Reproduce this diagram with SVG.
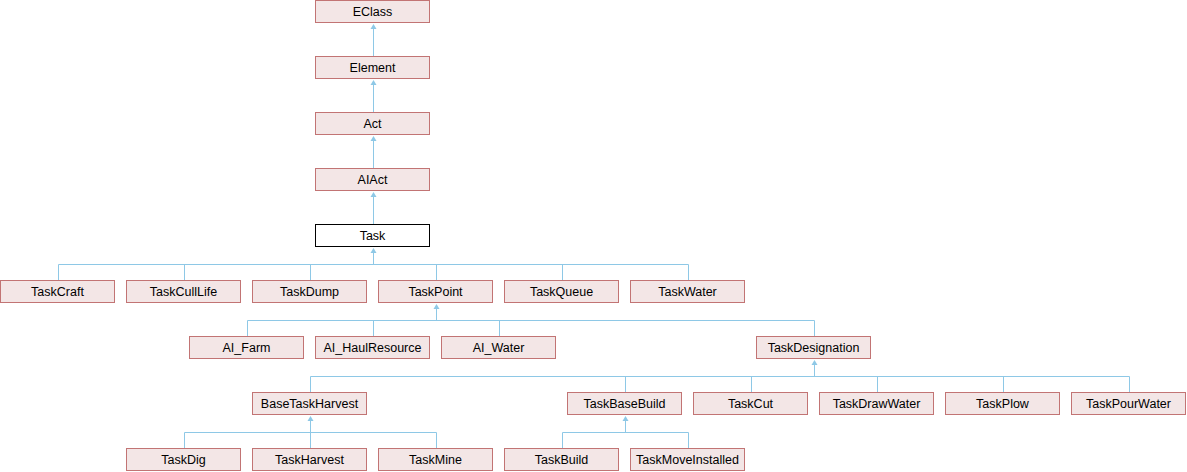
<svg xmlns="http://www.w3.org/2000/svg" width="1187" height="472" viewBox="0 0 1187 472">
<style>
.n rect{fill:#f3e6e6;stroke:#c27474;stroke-width:1}
.n.cur rect{fill:#ffffff;stroke:#000000}
.n text{font-family:"Liberation Sans",Arial,sans-serif;font-size:12.5px;fill:#000;text-anchor:middle}
.e path{fill:none;stroke:#8ec8e6;stroke-width:1}
.e polygon{fill:#8ec8e6;stroke:none}
</style>
<rect width="1187" height="472" fill="#ffffff"/>
<g id="connectors" class="e">
<path d="M373.5 56V25M373.5 112V81M373.5 168V137M373.5 224V193"/>
<polygon points="373.5,24 370.5,29 376.5,29"/>
<polygon points="373.5,80 370.5,85 376.5,85"/>
<polygon points="373.5,136 370.5,141 376.5,141"/>
<polygon points="373.5,192 370.5,197 376.5,197"/>
<path d="M373.5 249V264.5M58.5 264.5H688.5M58.5 264.5V280M184.5 264.5V280M310.5 264.5V280M436.5 264.5V280M562.5 264.5V280M688.5 264.5V280"/>
<polygon points="373.5,248 370.5,253 376.5,253"/>
<path d="M436.5 305V320.5M247.5 320.5H814.5M247.5 320.5V336M373.5 320.5V336M499.5 320.5V336M814.5 320.5V336"/>
<polygon points="436.5,304 433.5,309 439.5,309"/>
<path d="M814.5 361V376.5M310.5 376.5H1129.5M310.5 376.5V392M625.5 376.5V392M751.5 376.5V392M877.5 376.5V392M1003.5 376.5V392M1129.5 376.5V392"/>
<polygon points="814.5,360 811.5,365 817.5,365"/>
<path d="M310.5 417V432.5M184.5 432.5H436.5M184.5 432.5V448M310.5 432.5V448M436.5 432.5V448"/>
<polygon points="310.5,416 307.5,421 313.5,421"/>
<path d="M625.5 417V432.5M562.5 432.5H688.5M562.5 432.5V448M688.5 432.5V448"/>
<polygon points="625.5,416 622.5,421 628.5,421"/>
</g>
<g id="EClass" class="n"><rect x="315.5" y="0.5" width="114" height="22"/><text x="372.5" y="15.5">EClass</text></g>
<g id="Element" class="n"><rect x="315.5" y="56.5" width="114" height="22"/><text x="372.5" y="71.5">Element</text></g>
<g id="Act" class="n"><rect x="315.5" y="112.5" width="114" height="22"/><text x="372.5" y="127.5">Act</text></g>
<g id="AIAct" class="n"><rect x="315.5" y="168.5" width="114" height="22"/><text x="372.5" y="183.5">AIAct</text></g>
<g id="Task" class="n cur"><rect x="315.5" y="224.5" width="114" height="22"/><text x="372.5" y="239.5">Task</text></g>
<g id="TaskCraft" class="n"><rect x="0.5" y="280.5" width="114" height="22"/><text x="57.5" y="295.5">TaskCraft</text></g>
<g id="TaskCullLife" class="n"><rect x="126.5" y="280.5" width="114" height="22"/><text x="183.5" y="295.5">TaskCullLife</text></g>
<g id="TaskDump" class="n"><rect x="252.5" y="280.5" width="114" height="22"/><text x="309.5" y="295.5">TaskDump</text></g>
<g id="TaskPoint" class="n"><rect x="378.5" y="280.5" width="114" height="22"/><text x="435.5" y="295.5">TaskPoint</text></g>
<g id="TaskQueue" class="n"><rect x="504.5" y="280.5" width="114" height="22"/><text x="561.5" y="295.5">TaskQueue</text></g>
<g id="TaskWater" class="n"><rect x="630.5" y="280.5" width="114" height="22"/><text x="687.5" y="295.5">TaskWater</text></g>
<g id="AI_Farm" class="n"><rect x="189.5" y="336.5" width="114" height="22"/><text x="246.5" y="351.5">AI_Farm</text></g>
<g id="AI_HaulResource" class="n"><rect x="315.5" y="336.5" width="114" height="22"/><text x="372.5" y="351.5">AI_HaulResource</text></g>
<g id="AI_Water" class="n"><rect x="441.5" y="336.5" width="114" height="22"/><text x="498.5" y="351.5">AI_Water</text></g>
<g id="TaskDesignation" class="n"><rect x="756.5" y="336.5" width="114" height="22"/><text x="813.5" y="351.5">TaskDesignation</text></g>
<g id="BaseTaskHarvest" class="n"><rect x="252.5" y="392.5" width="114" height="22"/><text x="309.5" y="407.5">BaseTaskHarvest</text></g>
<g id="TaskBaseBuild" class="n"><rect x="567.5" y="392.5" width="114" height="22"/><text x="624.5" y="407.5">TaskBaseBuild</text></g>
<g id="TaskCut" class="n"><rect x="693.5" y="392.5" width="114" height="22"/><text x="750.5" y="407.5">TaskCut</text></g>
<g id="TaskDrawWater" class="n"><rect x="819.5" y="392.5" width="114" height="22"/><text x="876.5" y="407.5">TaskDrawWater</text></g>
<g id="TaskPlow" class="n"><rect x="945.5" y="392.5" width="114" height="22"/><text x="1002.5" y="407.5">TaskPlow</text></g>
<g id="TaskPourWater" class="n"><rect x="1071.5" y="392.5" width="114" height="22"/><text x="1128.5" y="407.5">TaskPourWater</text></g>
<g id="TaskDig" class="n"><rect x="126.5" y="448.5" width="114" height="22"/><text x="183.5" y="463.5">TaskDig</text></g>
<g id="TaskHarvest" class="n"><rect x="252.5" y="448.5" width="114" height="22"/><text x="309.5" y="463.5">TaskHarvest</text></g>
<g id="TaskMine" class="n"><rect x="378.5" y="448.5" width="114" height="22"/><text x="435.5" y="463.5">TaskMine</text></g>
<g id="TaskBuild" class="n"><rect x="504.5" y="448.5" width="114" height="22"/><text x="561.5" y="463.5">TaskBuild</text></g>
<g id="TaskMoveInstalled" class="n"><rect x="630.5" y="448.5" width="114" height="22"/><text x="687.5" y="463.5">TaskMoveInstalled</text></g>
</svg>
